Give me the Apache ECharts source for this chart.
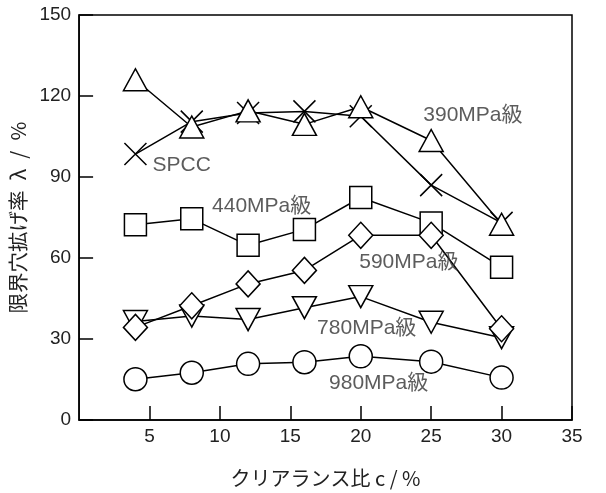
<!DOCTYPE html>
<html><head><meta charset="utf-8">
<script src="https://cdn.jsdelivr.net/npm/echarts@6/dist/echarts.min.js"></script>
<style>html,body{margin:0;padding:0;background:#fff}#c{width:606px;height:493px}</style>
</head><body><div id="c"></div>
<script>
const clearance = [4, 8, 12, 16, 20, 25, 30];
const mpa390 = [126, 108.5, 114.5, 109.5, 116, 103.5, 72.5];
const spcc = [98.5, 110.5, 113.7, 114.3, 112.5, 87, 73];
const mpa440 = [72.3, 74.5, 64.7, 70.6, 82.4, 73, 56.6];
const mpa590 = [34.3, 42.3, 50.4, 55.4, 68.4, 68.4, 33.8];
const mpa780 = [36.5, 38.5, 37.2, 41.6, 45.7, 36.2, 30.5];
const mpa980 = [15.1, 17.5, 20.8, 21.4, 23.6, 21.6, 15.7];
const xTicks = [0, 5, 10, 15, 20, 25, 30, 35];
const yTicks = [0, 30, 60, 90, 120, 150];
const annotations = [
  [24.44, 112.9, '390MPa級'],
  [5.21, 94.3, 'SPCC'],
  [9.44, 79.0, '440MPa級'],
  [19.89, 58.4, '590MPa級'],
  [16.9, 33.9, '780MPa級'],
  [17.75, 13.8, '980MPa級']
];

const FONT = '"Liberation Sans", Arial, "Noto Sans CJK JP", sans-serif';
const CJK = '"Noto Sans CJK JP", "Liberation Sans", sans-serif';
const pair = ys => clearance.map((x, i) => [x, ys[i]]);
function mk(name, data, symbol, size, extra) {
  return Object.assign({
    name, type: 'line', data: pair(data), symbol, symbolSize: size,
    lineStyle: { color: '#000', width: 1.5 },
    itemStyle: { color: '#fff', borderColor: '#000', borderWidth: 1.5 },
    animation: false, z: 3
  }, extra || {});
}
const chart = echarts.init(document.getElementById('c'));
chart.setOption({
  animation: false,
  grid: { left: 76, right: 34, top: 15, bottom: 66, show: true, borderColor: '#000', borderWidth: 1.5 },
  xAxis: {
    type: 'value', min: xTicks[0], max: xTicks[xTicks.length - 1], interval: 5,
    name: 'クリアランス比 c / %', nameLocation: 'middle', nameGap: 48,
    nameTextStyle: { fontFamily: CJK, fontSize: 20, color: '#222' },
    axisLine: { lineStyle: { color: '#000', width: 1.5 } },
    axisTick: { inside: true, length: 14, lineStyle: { color: '#000', width: 1.5 } },
    axisLabel: { showMinLabel: false, fontFamily: FONT, fontSize: 19, color: '#222', margin: 7 },
    splitLine: { show: false }
  },
  yAxis: {
    type: 'value', min: yTicks[0], max: yTicks[yTicks.length - 1], interval: 30,
    name: '限界穴拡げ率\u2002λ\u2002/\u2002%', nameLocation: 'middle', nameGap: 42,
    nameTextStyle: { fontFamily: CJK, fontSize: 20.5, color: '#222' },
    axisLine: { lineStyle: { color: '#000', width: 1.5 } },
    axisTick: { inside: true, length: 14, lineStyle: { color: '#000', width: 1.5 } },
    axisLabel: { fontFamily: FONT, fontSize: 19, color: '#222', margin: 8 },
    splitLine: { show: false }
  },
  series: [
    mk('980MPa', mpa980, 'circle', 23),
    mk('780MPa', mpa780, 'triangle', [24, 22], { symbolRotate: 180 }),
    mk('440MPa', mpa440, 'rect', 22),
    mk('590MPa', mpa590, 'diamond', [24, 26]),
    mk('SPCC', spcc, 'path://M0,0L10,10M10,0L0,10', 22, { itemStyle: { color: 'none', borderColor: '#000', borderWidth: 1.5 } }),
    mk('390MPa', mpa390, 'triangle', [24, 22]),
    {
      type: 'scatter', data: annotations.map(a => ({ value: [a[0], a[1]], name: a[2] })),
      symbolSize: 0, z: 5, silent: true,
      label: { show: true, position: 'right', distance: 0, formatter: p => p.name,
        fontFamily: FONT, fontSize: 21, color: '#333' }
    }
  ]
});
</script></body></html>
